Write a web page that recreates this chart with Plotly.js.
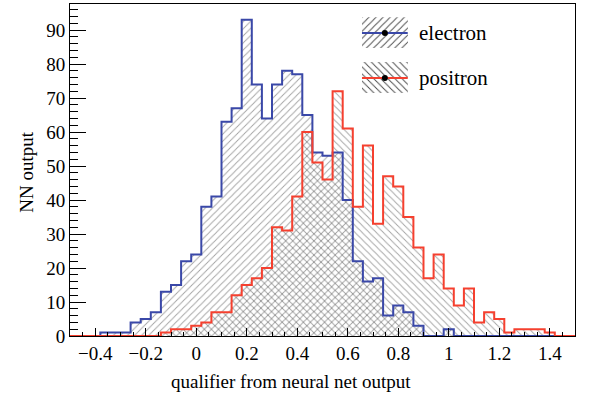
<!DOCTYPE html>
<html>
<head>
<meta charset="utf-8">
<script src="https://cdn.plot.ly/plotly-3.0.1.min.js"></script>
<style>html,body{margin:0;padding:0;background:#fff;}#chart{width:589px;height:394px;}</style>
</head>
<body>
<div id="chart"></div>
<script>
// Histogram binning: 50 bins of width 0.04 from -0.5 to 1.5
const binStart = -0.5;
const binWidth = 0.04;
const electron = [0,0,0,1,1,1,4,5,7,13, 15,22,24,38,41,63,67,93,74,64, 74,78,77,65,54,53,54,40,22,16, 17,6,9,7,3,0,0,2,0,0, 0,0,0,0,0,0,0,0,0,0];
const positron = [0,0,0,0,0,0,0,0,0,1, 2,2,3,4,7,7,12,15,17,20, 32,31,41,60,51,46,72,61,38,56, 33,47,44,35,26,17,24,14,9,14, 4,7,5,1,2,2,2,1,0,0];
const seriesNames = ["electron", "positron"];
const xTitle = "qualifier from neural net output";
const yTitle = "NN output";

const blue = "#3a48a8";
const red = "#f5402f";
const hatch = "#444444";
const FONT = "'Liberation Serif', 'Times New Roman', Times, serif";

const centers = electron.map((_, i) => binStart + (i + 0.5) * binWidth);
const widths = electron.map(() => binWidth);

function stepLine(vals) {
  const xs = [binStart], ys = [0];
  for (let i = 0; i < vals.length; i++) { xs.push(binStart + i * binWidth); ys.push(vals[i]); }
  xs.push(binStart + vals.length * binWidth); ys.push(vals[vals.length - 1]);
  xs.push(binStart + vals.length * binWidth); ys.push(0);
  return {xs, ys};
}

function hatchBar(vals, shape) {
  return {
    type: "bar", x: centers, y: vals, width: widths,
    marker: {color: "rgba(0,0,0,0)", line: {width: 0},
      pattern: {shape: shape, fgcolor: hatch, bgcolor: "rgba(0,0,0,0)", size: 5, solidity: 0.18, fillmode: "overlay"}},
    hoverinfo: "skip", showlegend: false
  };
}

const eStep = stepLine(electron);
const pStep = stepLine(positron);

const traces = [
  hatchBar(electron, "/"),
  hatchBar(positron, "\\"),
  {type: "scatter", mode: "lines", x: eStep.xs, y: eStep.ys, line: {color: blue, width: 2, shape: "hv"}, showlegend: false, hoverinfo: "skip", name: seriesNames[0]},
  {type: "scatter", mode: "lines", x: pStep.xs, y: pStep.ys, line: {color: red, width: 2, shape: "hv"}, showlegend: false, hoverinfo: "skip", name: seriesNames[1]},
  // legend samples drawn on an auxiliary axis pair
  {type: "bar", x: [0.5], y: [31], base: [45], width: [1], xaxis: "x2", yaxis: "y2",
    marker: {color: "rgba(0,0,0,0)", line: {width: 0}, pattern: {shape: "/", fgcolor: hatch, bgcolor: "rgba(0,0,0,0)", size: 5, solidity: 0.18}}, showlegend: false, hoverinfo: "skip"},
  {type: "bar", x: [0.5], y: [31], base: [0], width: [1], xaxis: "x2", yaxis: "y2",
    marker: {color: "rgba(0,0,0,0)", line: {width: 0}, pattern: {shape: "\\", fgcolor: hatch, bgcolor: "rgba(0,0,0,0)", size: 5, solidity: 0.18}}, showlegend: false, hoverinfo: "skip"},
  {type: "scatter", mode: "lines", x: [0, 1], y: [60.3, 60.3], xaxis: "x2", yaxis: "y2", line: {color: blue, width: 2}, showlegend: false, hoverinfo: "skip"},
  {type: "scatter", mode: "lines", x: [0, 1], y: [15.3, 15.3], xaxis: "x2", yaxis: "y2", line: {color: red, width: 2}, showlegend: false, hoverinfo: "skip"},
  {type: "scatter", mode: "markers", x: [0.5, 0.5], y: [60.3, 15.3], xaxis: "x2", yaxis: "y2", marker: {color: "#000", size: 6}, showlegend: false, hoverinfo: "skip"}
];

const layout = {
  width: 589, height: 394,
  margin: {l: 70, r: 14, t: 4, b: 58, pad: 0},
  paper_bgcolor: "#fff", plot_bgcolor: "#fff",
  font: {family: FONT, color: "#000", size: 18},
  barmode: "overlay", bargap: 0,
  showlegend: false,
  xaxis: {
    range: [-0.5, 1.5], dtick: 0.2, tick0: 0, showgrid: false, zeroline: false,
    showline: true, linecolor: "#000", linewidth: 1, mirror: true,
    ticks: "inside", ticklen: 8, tickwidth: 1, tickcolor: "#000",
    minor: {dtick: 0.05, ticks: "inside", ticklen: 4, tickcolor: "#000", showgrid: false},
    tickfont: {family: FONT, size: 19, color: "#000"}
  },
  yaxis: {
    range: [0, 97.65], dtick: 10, tick0: 0, showgrid: false, zeroline: false,
    showline: true, linecolor: "#000", linewidth: 1, mirror: true,
    ticks: "inside", ticklen: 16, tickwidth: 1, tickcolor: "#000",
    minor: {dtick: 2, ticks: "inside", ticklen: 8, tickcolor: "#000", showgrid: false},
    tickfont: {family: FONT, size: 19, color: "#000"}
  },
  xaxis2: {domain: [0.578, 0.669], range: [0, 1], anchor: "y2", visible: false, fixedrange: true},
  yaxis2: {domain: [0.731, 0.960], range: [0, 76], anchor: "x2", visible: false, fixedrange: true},
  annotations: [
    {text: xTitle, xref: "paper", yref: "paper", x: 0.4376, y: -0.136, xanchor: "center", yanchor: "middle", showarrow: false, font: {family: FONT, size: 19, color: "#000"}},
    {text: yTitle, xref: "paper", yref: "paper", x: -0.085, y: 0.492, xanchor: "center", yanchor: "middle", textangle: -90, showarrow: false, font: {family: FONT, size: 19, color: "#000"}},
    {text: seriesNames[0], xref: "paper", yref: "paper", x: 0.687, y: 0.9127, xanchor: "left", yanchor: "middle", showarrow: false, font: {family: FONT, size: 21, color: "#000"}},
    {text: seriesNames[1], xref: "paper", yref: "paper", x: 0.687, y: 0.777, xanchor: "left", yanchor: "middle", showarrow: false, font: {family: FONT, size: 21, color: "#000"}}
  ]
};

Plotly.newPlot("chart", traces, layout, {staticPlot: true, displayModeBar: false});
</script>
</body>
</html>
